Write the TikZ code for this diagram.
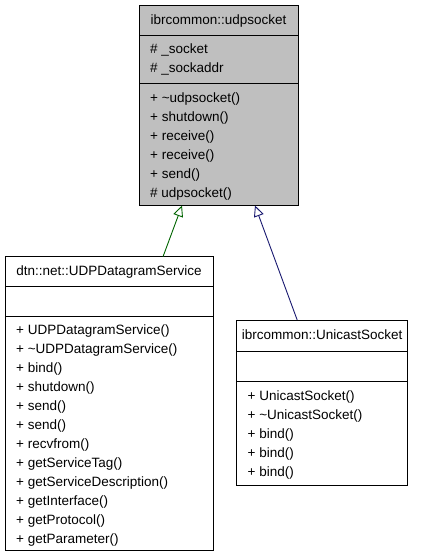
\documentclass[tikz,border=0pt]{standalone}
\usepackage{fontspec}
\setmainfont{Liberation Sans}
\usetikzlibrary{arrows.meta,calc}
\definecolor{boxgray}{RGB}{191,191,191}
\definecolor{inhgreen}{RGB}{0,100,0}
\definecolor{inhblue}{RGB}{25,25,112}
\begin{document}
\begin{tikzpicture}[x=1pt,y=-1pt,
  box/.style={draw=black, line width=1pt, inner sep=0pt, outer sep=0pt, anchor=north west},
  txt/.style={inner sep=0pt, anchor=base west, font=\fontsize{13.5}{16}\selectfont},
  ttl/.style={inner sep=0pt, anchor=base, font=\fontsize{13.5}{16}\selectfont},
  sep/.style={line width=1pt},
  inh/.style={-{Triangle[open,length=11pt,width=10pt,fill=white]}, line width=0.9pt}
]
\useasboundingbox (0,0) rectangle (424,557);

% ---- ibrcommon::udpsocket
\node[box, fill=boxgray, minimum width=159pt, minimum height=200.5pt] (uds) at (139,5) {};
\draw[sep] (139,35.5) -- (298,35.5);
\draw[sep] (139,83.5) -- (298,83.5);
\node[ttl] (udsT) at (218.5,24.3) {ibrcommon::udpsocket};
\node[txt] (udsA1) at (150,53.5) {\# \_socket};
\node[txt] (udsA2) at (150,72.5) {\# \_sockaddr};
\node[txt] (udsM1) at (150,102) {+ \textasciitilde udpsocket()};
\node[txt] (udsM2) at (150,121) {+ shutdown()};
\node[txt] (udsM3) at (150,140) {+ receive()};
\node[txt] (udsM4) at (150,159) {+ receive()};
\node[txt] (udsM5) at (150,178) {+ send()};
\node[txt] (udsM6) at (150,197) {\# udpsocket()};

% ---- dtn::net::UDPDatagramService
\node[box, fill=white, minimum width=208pt, minimum height=293.3pt] (udp) at (5,256.7) {};
\draw[sep] (5,286.7) -- (213,286.7);
\draw[sep] (5,316) -- (213,316);
\node[ttl] (udpT) at (109,275.7) {dtn::net::UDPDatagramService};
\foreach \t [count=\i from 0] in {UDPDatagramService(),\textasciitilde UDPDatagramService(),bind(),shutdown(),send(),send(),recvfrom(),getServiceTag(),getServiceDescription(),getInterface(),getProtocol(),getParameter()}
  \node[txt] (udpM\i) at (16,334.5+19*\i) {+ \t};

% ---- ibrcommon::UnicastSocket
\node[box, fill=white, minimum width=171pt, minimum height=165pt] (uni) at (236.7,320) {};
\draw[sep] (236.7,351) -- (407.7,351);
\draw[sep] (236.7,381.7) -- (407.7,381.7);
\node[ttl] (uniT) at (322.2,339) {ibrcommon::UnicastSocket};
\foreach \t [count=\i from 0] in {UnicastSocket(),\textasciitilde UnicastSocket(),bind(),bind(),bind()}
  \node[txt] (uniM\i) at (247.5,400.2+19*\i) {+ \t};

% ---- inheritance
\draw[inh, inhgreen] ($(udp.north west)+(158,0)$) -- ($(uds.south west)+(43,0)$);
\draw[inh, inhblue] ($(uni.north west)+(60.5,0)$) -- ($(uds.south west)+(116,0)$);
\end{tikzpicture}
\end{document}
